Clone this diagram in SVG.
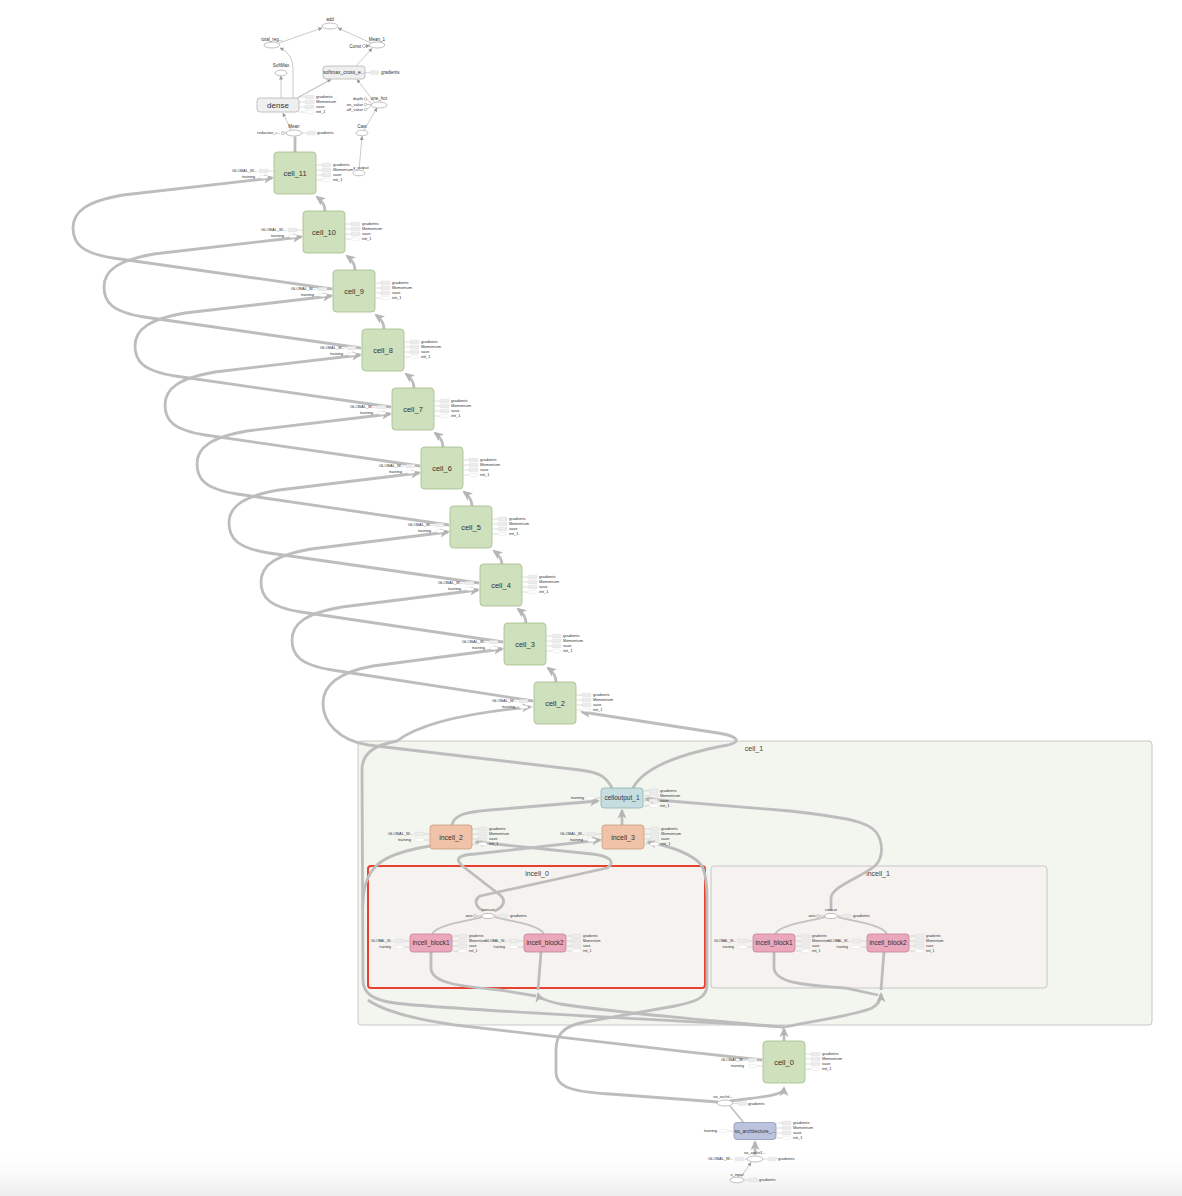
<svg xmlns="http://www.w3.org/2000/svg" xmlns:xlink="http://www.w3.org/1999/xlink" width="1182" height="1196" viewBox="0 0 1182 1196">
<style>
text{font-family:"Liberation Sans",Arial,sans-serif;fill:#333}
.nl{font-size:7.5px;text-anchor:middle}
.ns{font-size:6.5px;text-anchor:middle}
.cl{font-size:7px;text-anchor:middle;fill:#444}
.al{font-size:4px;text-anchor:end}
.ar{font-size:4px}
.blk .al,.blk .ar{font-size:3.5px}
.ol{font-size:4.5px;text-anchor:middle}
.oe{font-size:4.5px;text-anchor:end}
.os{font-size:4.5px}
.cn{fill:#cfe0bc;stroke:#a3bb8c;stroke-width:0.8}
.co{fill:#c6dee0;stroke:#8fb0b3;stroke-width:0.8}
.ic{fill:#f0c3a8;stroke:#c99a80;stroke-width:0.8}
.ib{fill:#eba7bc;stroke:#c4849a;stroke-width:0.8}
.sa{fill:#bcc4dd;stroke:#8d97b8;stroke-width:0.8}
.gn{fill:#efefef;stroke:#b5b5b5;stroke-width:0.8}
.op{fill:#fff;stroke:#999;stroke-width:0.6}
.sr{fill:#ececec;stroke:#d0d0d0;stroke-width:0.3}
.se{fill:#fff;stroke:#cfcfcf;stroke-width:0.3}
.sl{fill:none;stroke:#aaa;stroke-width:0.4}
.e{fill:none;stroke:#bdbdbd;stroke-width:2.8}
.em{fill:none;stroke:#c2c2c2;stroke-width:1.8}
.t{fill:none;stroke:#a8a8a8;stroke-width:0.6}
</style>
<defs>
<linearGradient id="fade" x1="0" y1="0" x2="0" y2="1"><stop offset="0" stop-color="#ffffff" stop-opacity="0"/><stop offset="1" stop-color="#ececec"/></linearGradient>
<marker id="ah" viewBox="0 0 10 10" refX="8" refY="5" markerWidth="10" markerHeight="10" markerUnits="userSpaceOnUse" orient="auto"><path d="M0,0.5 L10,5 L0,9.5 L2.5,5 z" fill="#b5b5b5"/></marker>
<marker id="as" viewBox="0 0 10 10" refX="9" refY="5" markerWidth="4" markerHeight="4" markerUnits="userSpaceOnUse" orient="auto"><path d="M0,0 L10,5 L0,10 z" fill="#999"/></marker>
<g id="annL"><path class="sl" d="M-27,-2H-21.5M-27,4H-21.5"/><rect class="sr" x="-36" y="-3.8" width="9" height="3.6" rx="0.8"/><ellipse class="se" cx="-31.5" cy="4" rx="4.5" ry="1.7"/></g>
<g id="annT"><path class="sl" d="M-27,0H-21.5"/><ellipse class="se" cx="-31.5" cy="0" rx="4.5" ry="1.7"/></g>
<g id="annR"><path class="sl" d="M21.5,-8H27M21.5,-3H27M21.5,2H27M21.5,7H27"/><rect class="sr" x="27" y="-9.8" width="9" height="3.6" rx="0.8"/><rect class="sr" x="27" y="-4.8" width="9" height="3.6" rx="0.8"/><rect class="sr" x="27" y="0.2" width="9" height="3.6" rx="0.8"/><ellipse class="se" cx="31.5" cy="7" rx="4.5" ry="1.7"/></g>
<g id="ann1"><path class="sl" d="M0,0H5"/><rect class="sr" x="5" y="-1.8" width="8.5" height="3.6" rx="0.8"/></g>
</defs>
<rect x="0" y="0" width="1182" height="1196" fill="#fff"/>
<rect x="0" y="1150" width="1182" height="46" fill="url(#fade)"/>

<g id="containers">
<g id="cell_1"><rect x="358" y="741" width="794" height="284" rx="3" fill="#f3f5ef" stroke="#bcbcbc" stroke-width="0.8"/><text class="cl" x="754" y="751">cell_1</text></g>
<g id="incell_0"><rect x="368" y="866" width="337" height="122" rx="3" fill="#f5f2ef" stroke="#e8412f" stroke-width="2"/><text class="cl" x="537" y="876">incell_0</text></g>
<g id="incell_1"><rect x="711" y="866" width="336" height="122" rx="3" fill="#f5f2ef" stroke="#bcbcbc" stroke-width="0.8"/><text class="cl" x="878" y="876">incell_1</text></g>
</g>

<g id="connectors">
<path class="t" d="M279,43 L322,28" marker-end="url(#as)"/>
<path class="t" d="M371,43 L338,28" marker-end="url(#as)"/>
<path class="t" d="M365.5,46 L369.5,46" marker-end="url(#as)"/>
<path class="t" d="M356,66 L372,48.5" marker-end="url(#as)"/>
<path class="t" d="M293,98 L293,68 Q293,54 280,48" marker-end="url(#as)"/>
<path class="t" d="M281,98 L281,76" marker-end="url(#as)"/>
<path class="em" style="stroke-width:1.2" d="M297,98 L331,79.5" marker-end="url(#as)"/>
<path class="t" d="M374,101.5 L357,79.5" marker-end="url(#as)"/>
<path class="t" d="M366.5,99 L371.5,103.5M366.5,104.5 L371.5,104.5M366.5,109.5 L371.5,105.5"/>
<path class="t" d="M364,130 L377,108" marker-end="url(#as)"/>
<path class="t" d="M291,130 L283,113" marker-end="url(#as)"/>
<path class="t" d="M284.5,133 L286.5,133"/>
<path class="t" d="M359,170 L362,136.5" marker-end="url(#as)"/>
<path class="e" d="M295,152 L295,136.5"/>
<path class="e" d="M325,211 C325,204 321,200 317,197" marker-end="url(#ah)"/>
<path class="e" d="M355,270 C355,263 351,259 347,256" marker-end="url(#ah)"/>
<path class="e" d="M384,329 C384,322 380,318 376,315" marker-end="url(#ah)"/>
<path class="e" d="M414,388 C414,381 410,377 406,374" marker-end="url(#ah)"/>
<path class="e" d="M443,447 C443,440 439,436 435,433" marker-end="url(#ah)"/>
<path class="e" d="M472,506 C472,499 468,495 464,492" marker-end="url(#ah)"/>
<path class="e" d="M502,565 C502,558 498,554 494,551" marker-end="url(#ah)"/>
<path class="e" d="M526,623 C526,616 522,612 518,609" marker-end="url(#ah)"/>
<path class="e" d="M556,682 C556,675 552,671 548,668" marker-end="url(#ah)"/>
<path class="e" d="M332,289 L113,258 C81,253 73,243 73,228 C73,211 88,201 123,195 L272,178" marker-end="url(#ah)"/>
<path class="e" d="M361,348 L144,317 C112,312 104,302 104,287 C104,270 119,260 154,254 L301,237" marker-end="url(#ah)"/>
<path class="e" d="M391,407 L175,376 C143,371 135,361 135,346 C135,329 150,319 185,313 L331,296" marker-end="url(#ah)"/>
<path class="e" d="M420,466 L205,435 C173,430 165,420 165,405 C165,388 180,378 215,372 L360,355" marker-end="url(#ah)"/>
<path class="e" d="M449,525 L237,494 C205,489 197,479 197,464 C197,447 212,437 247,431 L390,414" marker-end="url(#ah)"/>
<path class="e" d="M479,583 L269,553 C237,548 229,538 229,523 C229,506 244,496 279,490 L419,473" marker-end="url(#ah)"/>
<path class="e" d="M503,642 L301,612 C269,607 261,597 261,582 C261,565 276,555 311,549 L448,532" marker-end="url(#ah)"/>
<path class="e" d="M533,701 L332,670 C300,665 292,655 292,640 C292,623 307,613 342,607 L478,590" marker-end="url(#ah)"/>
<path class="e" d="M612,788 C606,776 598,772 580,770 L368,745 C338,740 323,722 323,703 C323,686 338,672 373,666 L502,649" marker-end="url(#ah)"/>
<path class="e" d="M784,1027 C650,1019 450,1010 395,1003 C372,1000 363,993 363,980 L362,770 C362,752 376,745 397,741 C415,727 455,714 530,707" marker-end="url(#ah)"/>
<path class="e" d="M762,1060 C650,1048 520,1033 455,1025 C420,1020 385,1012 368,1000"/>
<path class="e" d="M430,846 C405,850 385,857 376,866 C366,876 363,890 363,905"/>
<path class="e" d="M633,788 C645,765 690,752 728,745 C742,742 738,736 718,733 L582,712" marker-end="url(#ah)"/>
<path class="e" d="M452,825 C454,815 465,812 490,810 L598,801" marker-end="url(#ah)"/>
<path class="e" d="M622,825 L622,810.5" marker-end="url(#ah)"/>
<path class="e" d="M831,911 L831,898 C832,886 860,878 875,866 C885,856 882,840 876,832 C868,822 850,818 790,811 L646,799" marker-end="url(#ah)"/>
<path class="e" d="M494,911 C503,908 507,901 500,895 L465,868 C453,859 458,855 475,854 L600,840" marker-end="url(#ah)"/>
<path class="e" d="M484,911 C476,908 473,900 480,896 L607,868 C616,862 610,856 592,854 L476,842" marker-end="url(#ah)"/>
<path class="e" d="M718,1102 L610,1094 C575,1092 556,1088 556,1072 L556,1050 C556,1036 562,1026 585,1022 L675,1006 C695,1002 707,998 707,985 L707,900 C707,885 706,874 702,866 C695,856 675,847 648,842" marker-end="url(#ah)"/>
<path class="em" d="M482,917 C470,921 438,924 432,934"/>
<path class="em" d="M495,917 C507,921 539,924 544,934"/>
<path class="e" d="M431,952 L431,968 C431,982 455,986 500,990 L536,996"/>
<path class="e" d="M541,952 L538,990"/>
<path class="e" d="M784,1027 C700,1020 600,1010 560,1004 C546,1001 539,998 538,994" marker-end="url(#ah)"/>
<path class="em" d="M825,917 C813,921 781,924 775,934"/>
<path class="em" d="M838,917 C850,921 882,924 887,934"/>
<path class="e" d="M774,952 L774,968 C775,982 800,985 845,988 L878,995"/>
<path class="e" d="M884,952 L881,990"/>
<path class="e" d="M784,1027 C820,1020 860,1014 872,1008 C879,1004 881,999 881,994" marker-end="url(#ah)"/>
<path class="e" d="M784,1042 L784,1029" marker-end="url(#ah)"/>
<path class="e" d="M730,1101 C760,1097 784,1096 784,1088" marker-end="url(#ah)"/>
<path class="em" d="M744,1123 L730,1106"/>
<path class="e" d="M755,1155 L755,1142" marker-end="url(#ah)"/>
<path class="t" d="M741,1177 L751,1162.5" marker-end="url(#as)"/>
<path class="t" d="M745,1159 L747,1159M476.5,916 L482,916M819.5,916 L825,916"/>
</g>

<g id="add"><ellipse class="op" cx="330" cy="26" rx="8" ry="3"/><text class="ol" x="330" y="21">add</text></g>
<g id="total_reg"><ellipse class="op" cx="272" cy="45" rx="8" ry="3"/><text class="ol" x="272" y="41">total_reg...</text></g>
<g id="Mean_1"><ellipse class="op" cx="377" cy="45" rx="8" ry="3"/><text class="ol" x="377" y="41">Mean_1</text><circle class="op" cx="364" cy="46" r="1.6"/><text class="oe" x="361" y="47.5">Const</text></g>
<g id="SoftMax"><ellipse class="op" cx="281" cy="73" rx="6" ry="2.8"/><text class="ol" x="281" y="67">SoftMax</text></g>
<g id="softmax_cross"><rect class="gn" x="323" y="66" width="42" height="13" rx="3"/><text class="ns" style="font-size:5px" x="344" y="74.3">softmax_cross_e...</text><use href="#ann1" x="365" y="72.5"/><text class="os" x="381" y="74">gradients</text></g>
<g id="dense"><rect class="gn" x="257" y="98" width="42" height="14" rx="3"/><text class="nl" style="font-size:8px" x="278" y="107.8">dense</text><use href="#annR" x="278" y="105"/><text class="ar" x="316" y="98.4">gradients</text><text class="ar" x="316" y="103.4">Momentum</text><text class="ar" x="316" y="108.4">save</text><text class="ar" x="316" y="113.4">init_1</text></g>
<g id="one_hot"><ellipse class="op" cx="379" cy="105" rx="8" ry="3"/><text class="ol" x="379" y="100">one_hot</text><circle class="op" cx="365.5" cy="99" r="1.3"/><circle class="op" cx="365.5" cy="104.5" r="1.3"/><circle class="op" cx="365.5" cy="109.5" r="1.3"/><text class="oe" style="font-size:4px" x="363" y="100.4">depth</text><text class="oe" style="font-size:4px" x="363" y="105.9">on_value</text><text class="oe" style="font-size:4px" x="363" y="110.9">off_value</text></g>
<g id="Cast"><ellipse class="op" cx="362" cy="133" rx="6" ry="2.8"/><text class="ol" x="362" y="128">Cast</text></g>
<g id="Mean"><ellipse class="op" cx="294" cy="133" rx="8" ry="3"/><text class="ol" x="294" y="128">Mean</text><circle class="op" cx="283" cy="133" r="1.5"/><text class="oe" style="font-size:4px" x="280" y="134.4">reduction_i...</text><use href="#ann1" x="302" y="133"/><text class="os" style="font-size:4px" x="317" y="134.4">gradients</text></g>
<g id="y_output"><ellipse class="op" cx="359" cy="173" rx="6" ry="2.8"/><text class="ol" style="font-size:4px" x="361" y="168.5">y_output</text></g>

<g id="cell_11" transform="translate(295,173)"><rect class="cn" x="-21" y="-21" width="42" height="42" rx="3.5"/><text class="nl" y="2.6">cell_11</text><use href="#annL"/><use href="#annR"/><text class="al" x="-38" y="-0.6">GLOBAL_W...</text><text class="al" x="-40" y="5.4">training</text><text class="ar" x="38" y="-6.6">gradients</text><text class="ar" x="38" y="-1.6">Momentum</text><text class="ar" x="38" y="3.4">save</text><text class="ar" x="38" y="8.4">init_1</text></g>
<g id="cell_10" transform="translate(324,232)"><rect class="cn" x="-21" y="-21" width="42" height="42" rx="3.5"/><text class="nl" y="2.6">cell_10</text><use href="#annL"/><use href="#annR"/><text class="al" x="-38" y="-0.6">GLOBAL_W...</text><text class="al" x="-40" y="5.4">training</text><text class="ar" x="38" y="-6.6">gradients</text><text class="ar" x="38" y="-1.6">Momentum</text><text class="ar" x="38" y="3.4">save</text><text class="ar" x="38" y="8.4">init_1</text></g>
<g id="cell_9" transform="translate(354,291)"><rect class="cn" x="-21" y="-21" width="42" height="42" rx="3.5"/><text class="nl" y="2.6">cell_9</text><use href="#annL"/><use href="#annR"/><text class="al" x="-38" y="-0.6">GLOBAL_W...</text><text class="al" x="-40" y="5.4">training</text><text class="ar" x="38" y="-6.6">gradients</text><text class="ar" x="38" y="-1.6">Momentum</text><text class="ar" x="38" y="3.4">save</text><text class="ar" x="38" y="8.4">init_1</text></g>
<g id="cell_8" transform="translate(383,350)"><rect class="cn" x="-21" y="-21" width="42" height="42" rx="3.5"/><text class="nl" y="2.6">cell_8</text><use href="#annL"/><use href="#annR"/><text class="al" x="-38" y="-0.6">GLOBAL_W...</text><text class="al" x="-40" y="5.4">training</text><text class="ar" x="38" y="-6.6">gradients</text><text class="ar" x="38" y="-1.6">Momentum</text><text class="ar" x="38" y="3.4">save</text><text class="ar" x="38" y="8.4">init_1</text></g>
<g id="cell_7" transform="translate(413,409)"><rect class="cn" x="-21" y="-21" width="42" height="42" rx="3.5"/><text class="nl" y="2.6">cell_7</text><use href="#annL"/><use href="#annR"/><text class="al" x="-38" y="-0.6">GLOBAL_W...</text><text class="al" x="-40" y="5.4">training</text><text class="ar" x="38" y="-6.6">gradients</text><text class="ar" x="38" y="-1.6">Momentum</text><text class="ar" x="38" y="3.4">save</text><text class="ar" x="38" y="8.4">init_1</text></g>
<g id="cell_6" transform="translate(442,468)"><rect class="cn" x="-21" y="-21" width="42" height="42" rx="3.5"/><text class="nl" y="2.6">cell_6</text><use href="#annL"/><use href="#annR"/><text class="al" x="-38" y="-0.6">GLOBAL_W...</text><text class="al" x="-40" y="5.4">training</text><text class="ar" x="38" y="-6.6">gradients</text><text class="ar" x="38" y="-1.6">Momentum</text><text class="ar" x="38" y="3.4">save</text><text class="ar" x="38" y="8.4">init_1</text></g>
<g id="cell_5" transform="translate(471,527)"><rect class="cn" x="-21" y="-21" width="42" height="42" rx="3.5"/><text class="nl" y="2.6">cell_5</text><use href="#annL"/><use href="#annR"/><text class="al" x="-38" y="-0.6">GLOBAL_W...</text><text class="al" x="-40" y="5.4">training</text><text class="ar" x="38" y="-6.6">gradients</text><text class="ar" x="38" y="-1.6">Momentum</text><text class="ar" x="38" y="3.4">save</text><text class="ar" x="38" y="8.4">init_1</text></g>
<g id="cell_4" transform="translate(501,585)"><rect class="cn" x="-21" y="-21" width="42" height="42" rx="3.5"/><text class="nl" y="2.6">cell_4</text><use href="#annL"/><use href="#annR"/><text class="al" x="-38" y="-0.6">GLOBAL_W...</text><text class="al" x="-40" y="5.4">training</text><text class="ar" x="38" y="-6.6">gradients</text><text class="ar" x="38" y="-1.6">Momentum</text><text class="ar" x="38" y="3.4">save</text><text class="ar" x="38" y="8.4">init_1</text></g>
<g id="cell_3" transform="translate(525,644)"><rect class="cn" x="-21" y="-21" width="42" height="42" rx="3.5"/><text class="nl" y="2.6">cell_3</text><use href="#annL"/><use href="#annR"/><text class="al" x="-38" y="-0.6">GLOBAL_W...</text><text class="al" x="-40" y="5.4">training</text><text class="ar" x="38" y="-6.6">gradients</text><text class="ar" x="38" y="-1.6">Momentum</text><text class="ar" x="38" y="3.4">save</text><text class="ar" x="38" y="8.4">init_1</text></g>
<g id="cell_2" transform="translate(555,703)"><rect class="cn" x="-21" y="-21" width="42" height="42" rx="3.5"/><text class="nl" y="2.6">cell_2</text><use href="#annL"/><use href="#annR"/><text class="al" x="-38" y="-0.6">GLOBAL_W...</text><text class="al" x="-40" y="5.4">training</text><text class="ar" x="38" y="-6.6">gradients</text><text class="ar" x="38" y="-1.6">Momentum</text><text class="ar" x="38" y="3.4">save</text><text class="ar" x="38" y="8.4">init_1</text></g>
<g id="cell_0" transform="translate(784,1062)"><rect class="cn" x="-21" y="-21" width="42" height="42" rx="3.5"/><text class="nl" y="2.6">cell_0</text><use href="#annL"/><use href="#annR"/><text class="al" x="-38" y="-0.6">GLOBAL_W...</text><text class="al" x="-40" y="5.4">training</text><text class="ar" x="38" y="-6.6">gradients</text><text class="ar" x="38" y="-1.6">Momentum</text><text class="ar" x="38" y="3.4">save</text><text class="ar" x="38" y="8.4">init_1</text></g>

<g id="celloutput_1" transform="translate(622,798)"><rect class="co" x="-21" y="-10" width="42" height="20" rx="3"/><text class="ns" y="2.3">celloutput_1</text><use href="#annT"/><use href="#annR" y="0.8"/><text class="al" x="-38" y="1.4">training</text><text class="ar" x="38" y="-5.8">gradients</text><text class="ar" x="38" y="-0.8">Momentum</text><text class="ar" x="38" y="4.2">save</text><text class="ar" x="38" y="9.2">init_1</text></g>
<g id="incell_2" transform="translate(451,837)"><rect class="ic" x="-21" y="-12" width="42" height="24" rx="3"/><text class="nl" style="font-size:7px" y="2.5">incell_2</text><use href="#annL" y="-1"/><use href="#annR"/><text class="al" x="-38" y="-1.6">GLOBAL_W...</text><text class="al" x="-40" y="4.4">training</text><text class="ar" x="38" y="-6.6">gradients</text><text class="ar" x="38" y="-1.6">Momentum</text><text class="ar" x="38" y="3.4">save</text><text class="ar" x="38" y="8.4">init_1</text></g>
<g id="incell_3" transform="translate(623,837)"><rect class="ic" x="-21" y="-12" width="42" height="24" rx="3"/><text class="nl" style="font-size:7px" y="2.5">incell_3</text><use href="#annL" y="-1"/><use href="#annR"/><text class="al" x="-38" y="-1.6">GLOBAL_W...</text><text class="al" x="-40" y="4.4">training</text><text class="ar" x="38" y="-6.6">gradients</text><text class="ar" x="38" y="-1.6">Momentum</text><text class="ar" x="38" y="3.4">save</text><text class="ar" x="38" y="8.4">init_1</text></g>

<g id="incell_0_concat"><ellipse class="op" cx="488" cy="916" rx="6.5" ry="2.6"/><text class="ol" style="font-size:4px" x="488" y="911">concat</text><circle class="op" cx="475" cy="916" r="1.4"/><text class="oe" style="font-size:4px" x="472.5" y="917.4">axis</text><use href="#ann1" x="494.5" y="916"/><text class="os" style="font-size:4px" x="510" y="917.4">gradients</text></g>
<g id="incell_0_block1" class="blk" transform="translate(431,943)"><rect class="ib" x="-21" y="-9" width="42" height="18" rx="3"/><text class="ns" y="2.3">incell_block1</text><use href="#annL"/><use href="#annR" y="1"/><text class="al" x="-38" y="-0.8">GLOBAL_W...</text><text class="al" x="-40" y="5.2">training</text><text class="ar" x="38" y="-5.8">gradients</text><text class="ar" x="38" y="-0.8">Momentum</text><text class="ar" x="38" y="4.2">save</text><text class="ar" x="38" y="9.2">init_1</text></g>
<g id="incell_0_block2" class="blk" transform="translate(545,943)"><rect class="ib" x="-21" y="-9" width="42" height="18" rx="3"/><text class="ns" y="2.3">incell_block2</text><use href="#annL"/><use href="#annR" y="1"/><text class="al" x="-38" y="-0.8">GLOBAL_W...</text><text class="al" x="-40" y="5.2">training</text><text class="ar" x="38" y="-5.8">gradients</text><text class="ar" x="38" y="-0.8">Momentum</text><text class="ar" x="38" y="4.2">save</text><text class="ar" x="38" y="9.2">init_1</text></g>
<g id="incell_1_concat"><ellipse class="op" cx="831" cy="916" rx="6.5" ry="2.6"/><text class="ol" style="font-size:4px" x="831" y="911">concat</text><circle class="op" cx="818" cy="916" r="1.4"/><text class="oe" style="font-size:4px" x="815.5" y="917.4">axis</text><use href="#ann1" x="837.5" y="916"/><text class="os" style="font-size:4px" x="853" y="917.4">gradients</text></g>
<g id="incell_1_block1" class="blk" transform="translate(774,943)"><rect class="ib" x="-21" y="-9" width="42" height="18" rx="3"/><text class="ns" y="2.3">incell_block1</text><use href="#annL"/><use href="#annR" y="1"/><text class="al" x="-38" y="-0.8">GLOBAL_W...</text><text class="al" x="-40" y="5.2">training</text><text class="ar" x="38" y="-5.8">gradients</text><text class="ar" x="38" y="-0.8">Momentum</text><text class="ar" x="38" y="4.2">save</text><text class="ar" x="38" y="9.2">init_1</text></g>
<g id="incell_1_block2" class="blk" transform="translate(888,943)"><rect class="ib" x="-21" y="-9" width="42" height="18" rx="3"/><text class="ns" y="2.3">incell_block2</text><use href="#annL"/><use href="#annR" y="1"/><text class="al" x="-38" y="-0.8">GLOBAL_W...</text><text class="al" x="-40" y="5.2">training</text><text class="ar" x="38" y="-5.8">gradients</text><text class="ar" x="38" y="-0.8">Momentum</text><text class="ar" x="38" y="4.2">save</text><text class="ar" x="38" y="9.2">init_1</text></g>

<g id="so_archit"><ellipse class="op" cx="725" cy="1103" rx="8" ry="3"/><text class="ol" style="font-size:4px" x="723" y="1098">so_archit...</text><use href="#ann1" x="733" y="1103.5"/><text class="os" style="font-size:4px" x="748" y="1105">gradients</text></g>
<g id="so_architecture" transform="translate(755,1131)"><rect class="sa" x="-21" y="-8.5" width="42" height="17" rx="3"/><text class="ns" style="font-size:5px" y="1.8">so_architecture_...</text><use href="#annT"/><use href="#annR"/><text class="al" x="-38" y="1.4">training</text><text class="ar" x="38" y="-6.6">gradients</text><text class="ar" x="38" y="-1.6">Momentum</text><text class="ar" x="38" y="3.4">save</text><text class="ar" x="38" y="8.4">init_1</text></g>
<g id="so_archit1"><ellipse class="op" cx="755" cy="1159" rx="8" ry="3"/><text class="ol" style="font-size:4px" x="755" y="1154">so_archit1...</text><rect class="sr" x="735" y="1157.2" width="9" height="3.6" rx="0.8"/><text class="oe" style="font-size:4px" x="733" y="1160.4">GLOBAL_W...</text><use href="#ann1" x="763" y="1159"/><text class="os" style="font-size:4px" x="778" y="1160.4">gradients</text></g>
<g id="x_input"><ellipse class="op" cx="737" cy="1180" rx="7" ry="2.8"/><text class="ol" style="font-size:4px" x="737" y="1175.5">x_input</text><use href="#ann1" x="744" y="1180"/><text class="os" style="font-size:4px" x="759" y="1181.4">gradients</text></g>
</svg>
